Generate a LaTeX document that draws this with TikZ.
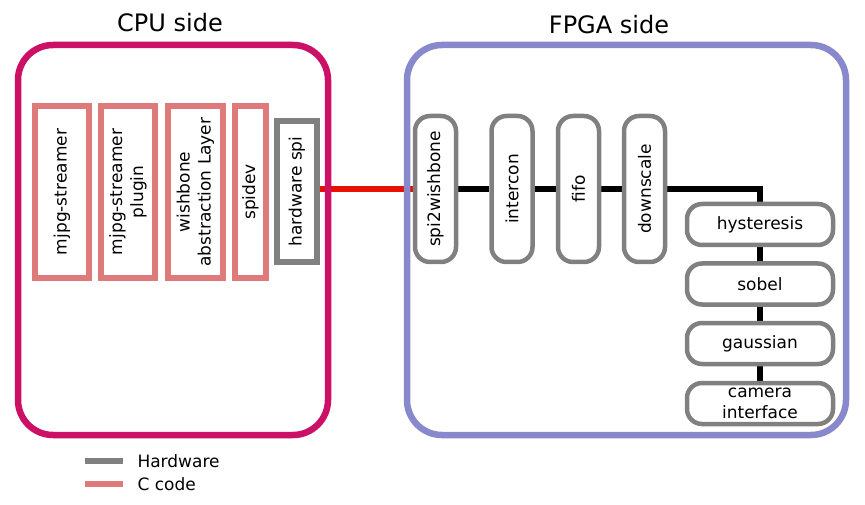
\documentclass[tikz,border=0pt]{standalone}
\usepackage{fontspec}
\setmainfont{DejaVu Sans}
\usepackage{tikz}
\usetikzlibrary{backgrounds}
\definecolor{cpuside}{RGB}{204,16,102}
\definecolor{fpgaside}{RGB}{136,136,204}
\definecolor{ccode}{RGB}{222,122,122}
\definecolor{hwgray}{RGB}{128,128,128}
\definecolor{spired}{RGB}{232,16,0}

\begin{document}
\begin{tikzpicture}[x=1pt, y=-1pt, font=\fontsize{17}{21}\selectfont,
  cbox/.style={draw=ccode, line width=6.5pt, rotate=90, inner sep=0pt, minimum width=172pt, align=center},
  hwbox/.style={draw=hwgray, line width=6.5pt, rotate=90, inner sep=0pt, minimum width=141pt, minimum height=40pt},
  vblock/.style={draw=hwgray, line width=4.5pt, rounded corners=15pt, rotate=90, inner sep=0pt, minimum width=146pt, minimum height=41pt},
  hblock/.style={draw=hwgray, line width=4.5pt, rounded corners=15pt, inner sep=0pt, minimum width=146pt, minimum height=41pt, align=center},
  link/.style={line width=6pt, black}]
\useasboundingbox (0,0) rectangle (865,505);
%%%%% Sides %%%%%
\draw[cpuside, line width=6.5pt, rounded corners=35pt] (18,45) rectangle (328,435);
\draw[fpgaside, line width=6.5pt, rounded corners=35pt] (407,45) rectangle (846,435);
\node (cputitle) at (170,23) {\fontsize{24}{28}\selectfont CPU side};
\node (fpgatitle) at (609,25) {\fontsize{24}{28}\selectfont FPGA side};
%%%%% CPU side %%%%%
\foreach \x/\w/\name/\txt in {62/54/mjpg/mjpg-streamer, 128/54/plugin/{mjpg-streamer\\plugin},
  195.5/55/wbal/{wishbone\\abstraction Layer}, 250.5/31/spidev/spidev}{
\node[cbox, minimum height=\w pt] (\name) at (\x,192) {\txt};
}
\node[hwbox] (hwspi) at (297,191.5) {hardware spi};
%%%%% FPGA side %%%%%
\node[vblock] (spiwb) at (435.5,189) {spi2wishbone};
\node[vblock] (intercon) at (512,189) {intercon};
\node[vblock] (fifo) at (578.5,189) {fifo};
\node[vblock] (downscale) at (644.5,189) {downscale};
\node[hblock] (hyst) at (760,224.5) {hysteresis};
\node[hblock] (sobel) at (760,284) {sobel};
\node[hblock] (gauss) at (760,343.5) {gaussian};
\node[hblock] (camif) at (760,403.5) {camera\\interface};
\begin{scope}[on background layer]
\draw[spired, line width=6pt] (spiwb.north -| hwspi.south) -- (spiwb.north);
\draw[link] (spiwb) -- (intercon) -- (fifo) -- (downscale) -| (hyst);
\draw[link] (hyst) -- (sobel) -- (gauss) -- (camif);
\end{scope}
%%%%% Legend %%%%%
\draw[hwgray, line width=6pt] (85,461) -- (123,461);
\draw[ccode, line width=6pt] (85,484) -- (123,484);
\node[anchor=west] (hwlegend) at (134,461) {Hardware};
\node[anchor=west] (clegend) at (134,484) {C code};
\end{tikzpicture}
\end{document}
